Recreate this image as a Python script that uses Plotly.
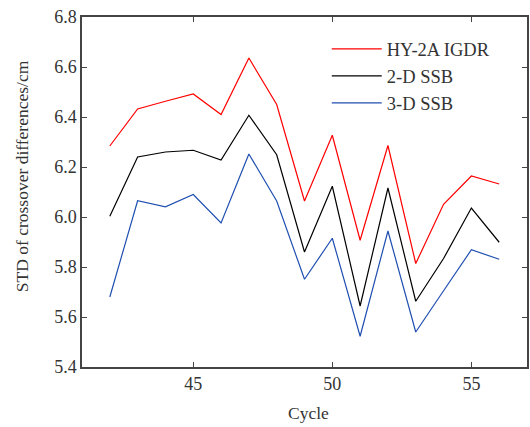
import plotly.graph_objects as go

cycles = list(range(42, 57))
igdr = [6.284, 6.432, 6.463, 6.492, 6.410, 6.636, 6.450, 6.064, 6.327, 5.907, 6.286, 5.814, 6.051, 6.164, 6.132]
ssb2d = [6.003, 6.240, 6.260, 6.267, 6.228, 6.407, 6.249, 5.860, 6.123, 5.644, 6.116, 5.663, 5.834, 6.036, 5.899]
ssb3d = [5.680, 6.065, 6.041, 6.090, 5.976, 6.252, 6.064, 5.751, 5.915, 5.523, 5.944, 5.540, 5.705, 5.869, 5.831]
names = ["HY-2A IGDR", "2-D SSB", "3-D SSB"]
colors = ["#ff0000", "#000000", "#1f4fb0"]

fig = go.Figure()
for name, vals, c in zip(names, [igdr, ssb2d, ssb3d], colors):
    fig.add_trace(go.Scatter(x=cycles, y=vals, mode="lines", name=name,
                             line=dict(color=c, width=1.2)))

serif = "Liberation Serif, Times New Roman, serif"
txtcol = "#333333"
axcol = "#444444"
fig.update_layout(
    width=530, height=427,
    margin=dict(l=82, r=3, t=17, b=60),
    paper_bgcolor="white", plot_bgcolor="white",
    font=dict(family=serif, size=18, color=txtcol),
    showlegend=True,
    legend=dict(x=0.55, y=0.962, xanchor="left", yanchor="top",
                bgcolor="rgba(0,0,0,0)", font=dict(size=18.5, color=txtcol),
                tracegroupgap=0, itemwidth=50),
    xaxis=dict(range=[41, 57], tickvals=[45, 50, 55], ticks="inside", ticklen=5,
               tickcolor=axcol, showline=True, linecolor=axcol, linewidth=1.5,
               mirror="ticks", showgrid=False, zeroline=False, automargin=False,
               tickfont=dict(size=18)),
    yaxis=dict(range=[5.4, 6.8], dtick=0.2, tickformat=".1f", ticks="inside", ticklen=5,
               tickcolor=axcol, showline=True, linecolor=axcol, linewidth=1.5,
               mirror="ticks", showgrid=False, zeroline=False, automargin=False,
               tickfont=dict(size=18)),
    annotations=[
        dict(text="Cycle", xref="paper", yref="paper", x=0.508, y=-0.131,
             xanchor="center", yanchor="middle", showarrow=False,
             font=dict(size=17.5, color=txtcol)),
        dict(text="STD of crossover differences/cm", xref="paper", yref="paper",
             x=-0.135, y=0.545, textangle=-90, xanchor="center", yanchor="middle",
             showarrow=False, font=dict(size=17.5, color=txtcol)),
    ],
)
fig.write_html("out.html", config={"displayModeBar": False},
               post_script="document.body.style.margin='0';document.body.style.overflow='hidden';")
